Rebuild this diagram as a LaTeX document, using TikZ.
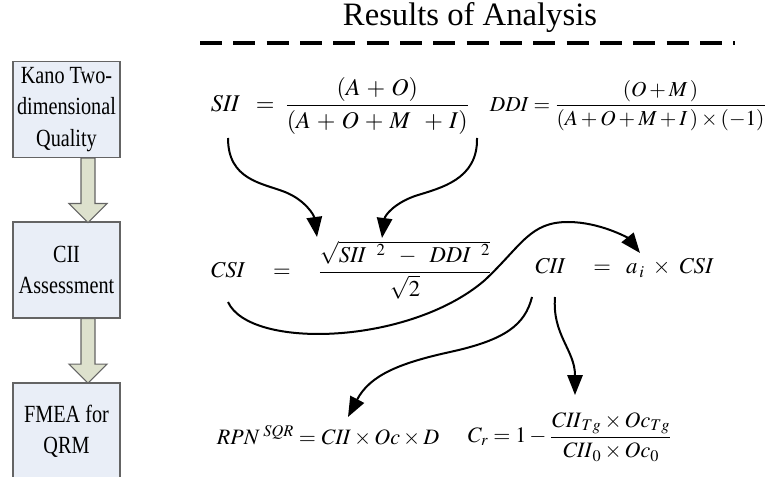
\documentclass[tikz,border=0pt]{standalone}
\usepackage{amsmath}
\usepackage{mathptmx}
\usepackage{fontspec}
\setmainfont{Liberation Serif}
\newfontfamily\stagefont[FakeStretch=0.82]{Liberation Serif}
\usetikzlibrary{arrows.meta,calc}
\definecolor{stagefill}{RGB}{233,238,247}
\definecolor{stageline}{RGB}{100,100,100}
\definecolor{flowfill}{RGB}{221,225,205}

\begin{document}
\begin{tikzpicture}[x=0.75pt, y=-0.75pt,
  stage/.style={draw=stageline, line width=0.8pt, fill=stagefill, minimum width=80.25pt, minimum height=72pt, inner sep=0pt, align=center, font=\stagefont\fontsize{18.5}{23.5}\selectfont},
  flow/.style={draw=stageline, line width=0.8pt, fill=flowfill, line join=miter},
  formula/.style={inner sep=1pt, font=\fontsize{18}{21}\selectfont},
  curvy/.style={line width=1.5pt, -{Triangle[length=15pt,width=11.5pt]}},
  rule/.style={line width=2.3pt, dash pattern=on 16.5pt off 8.5pt}
]
  \clip (0,0) rectangle (767,477);

  % stages on the left
  \node[stage] (kano) at (66.5,109.5) {Kano Two-\\dimensional\\Quality};
  \node[stage] (cii) at (66.5,270) {CII\\Assessment};
  \node[stage] (fmea) at (66.5,431) {FMEA for\\QRM};

  \foreach \a in {kano,cii}
    \draw[flow] ($(\a.south)+(21.5,0)$) ++(-7,0) -- ++(14,0) -- ++(0,45.5) -- ++(12,0)
      -- ++(-19,19) -- ++(-19,-19) -- ++(12,0) -- cycle;

  % heading
  \node[font=\fontsize{24.5}{28}\selectfont] (title) at (470,18) {Results of Analysis};
  \draw[rule] (200,43) -- (735,43);

  % formulas
  \node[formula] (sii) at (340,106) {$\mathit{SII}\;\;=\;\dfrac{(A\,+\,O)}{(A\,+\,O\,+\,M\;\;+\,I)}$};
  \node[formula, font=\fontsize{16}{19}\selectfont] (ddi) at (628,106) {$\mathit{DDI}=\dfrac{(O+M\,)}{(A+O+M+I\,)\times(-1)}$};
  \node[formula, font=\fontsize{17}{20}\selectfont] (csi) at (351,270) {$\mathit{CSI}\quad=\quad\dfrac{\sqrt{\mathit{SII}\;\;{}^{2}\;\;-\;\;\mathit{DDI}\;\;{}^{2}}}{\sqrt{2}}$};
  \node[formula, font=\fontsize{17}{20}\selectfont] (ciif) at (624,268) {$\mathit{CII}\quad=\;\;a_{\,i}\;\times\;\mathit{CSI}$};
  \node[formula, font=\fontsize{16.5}{19}\selectfont] (rpn) at (328,436) {$\mathit{RPN}^{\;\mathit{SQR}}=\mathit{CII}\times\mathit{Oc}\times D$};
  \node[formula, font=\fontsize{16.5}{19}\selectfont] (cr) at (570,437) {$C_r=1-\dfrac{\mathit{CII}_{Tg}\times\mathit{Oc}_{Tg}}{\mathit{CII}_0\times\mathit{Oc}_0}$};

  % ends of the curved arrows
  \coordinate (sii-l) at (228,138);
  \coordinate (sii-r) at (477,138);
  \coordinate (csi-a) at (317,237);
  \coordinate (csi-b) at (382,238);
  \coordinate (csi-out) at (228,302);
  \coordinate (cii-in) at (640,253);
  \coordinate (cii-l) at (532,297);
  \coordinate (cii-r) at (555,297);
  \coordinate (rpn-in) at (348,417);
  \coordinate (cr-in) at (575,395);

  \draw[curvy] (sii-l) .. controls (228,180) and (262,183) .. (285,192)
    .. controls (305,200) and (314,215) .. (csi-a);
  \draw[curvy] (sii-r) .. controls (478,180) and (440,188) .. (415,196)
    .. controls (395,203) and (385,215) .. (csi-b);
  \draw[curvy] (csi-out) .. controls (250,350) and (410,345) .. (485,280)
    .. controls (522,245) and (530,222) .. (568,222)
    .. controls (600,222) and (628,238) .. (cii-in);
  \draw[curvy] (cii-l) .. controls (525,325) and (505,340) .. (450,352)
    .. controls (400,363) and (370,375) .. (rpn-in);
  \draw[curvy] (cii-r) .. controls (552,335) and (575,350) .. (cr-in);
\end{tikzpicture}
\end{document}
